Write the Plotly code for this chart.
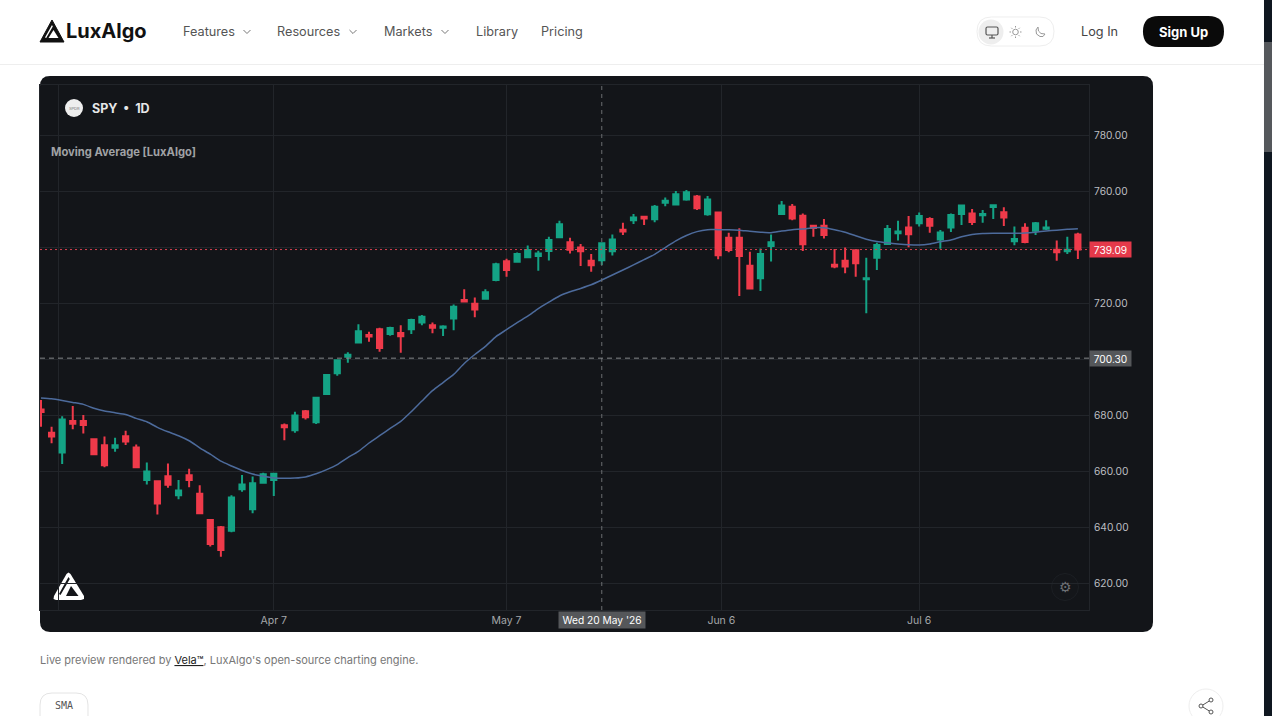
import plotly.graph_objects as go

# -----------------------------
# Chart data
# -----------------------------

opens = [
    682.0, 673.7, 666.6, 677.9, 677.9, 671.3, 669.2, 668.3, 672.4, 668.4,
    656.8, 656.3, 658.1, 651.3, 658.5, 651.9, 642.5, 639.9, 638.7, 653.5,
    646.3, 655.8, 656.8, 676.3, 674.6, 681.3, 677.4, 687.5, 694.9, 700.8,
    705.9, 708.6, 710.6, 708.9, 709.3, 710.6, 713.0, 712.1, 711.2, 714.5,
    721.1, 719.7, 721.5, 728.2, 734.9, 734.7, 736.3, 736.8, 738.6, 743.5,
    741.7, 739.8, 735.1, 735.3, 738.5, 746.2, 749.6, 750.8, 749.9, 755.8,
    755.2, 757.0, 758.0, 751.7, 752.3, 743.3, 743.3, 733.3, 728.8, 740.4,
    751.8, 754.4, 751.2, 747.6, 747.6, 733.7, 735.1, 738.8, 728.5, 736.2,
    741.1, 744.9, 747.0, 748.5, 750.0, 742.7, 747.0, 751.8, 752.0, 751.3,
    754.3, 752.4, 742.1, 746.9, 745.8, 746.5, 739.0, 738.5, 744.5,
]
highs = [
    685.4, 675.8, 679.6, 683.2, 680.0, 671.5, 672.3, 671.9, 674.4, 669.5,
    663.0, 656.5, 662.7, 656.8, 660.8, 654.9, 642.5, 640.4, 651.3, 658.6,
    658.0, 659.4, 659.4, 677.0, 681.2, 681.8, 686.2, 694.3, 699.9, 702.4,
    712.4, 709.7, 711.2, 711.5, 712.1, 714.4, 715.7, 713.0, 712.1, 719.5,
    724.9, 722.0, 724.9, 734.4, 735.8, 738.0, 740.5, 738.7, 743.7, 749.4,
    743.3, 741.1, 737.5, 741.3, 744.5, 748.7, 751.8, 751.1, 755.0, 757.7,
    760.0, 760.4, 758.6, 758.2, 752.4, 745.1, 746.7, 738.3, 739.5, 744.5,
    756.4, 755.4, 752.0, 747.9, 750.0, 739.3, 739.8, 738.9, 736.2, 741.5,
    747.9, 749.4, 751.1, 752.3, 750.6, 746.1, 752.0, 755.2, 753.6, 753.2,
    755.2, 754.2, 747.3, 748.5, 748.9, 749.6, 742.3, 743.7, 745.1,
]
lows = [
    675.8, 669.9, 662.5, 674.9, 673.4, 665.8, 661.3, 666.9, 669.3, 661.0,
    655.2, 644.5, 654.0, 649.9, 654.2, 644.6, 633.0, 629.4, 638.1, 652.6,
    644.9, 655.6, 651.1, 671.0, 673.7, 678.4, 676.8, 687.5, 694.0, 698.7,
    705.6, 706.2, 702.6, 708.3, 702.2, 708.9, 712.1, 709.2, 708.2, 710.3,
    720.2, 714.9, 721.3, 727.8, 729.4, 734.4, 736.2, 731.5, 735.2, 743.5,
    737.7, 733.2, 731.2, 733.6, 737.0, 744.3, 748.2, 747.9, 748.8, 754.6,
    754.8, 756.5, 753.2, 751.2, 735.6, 738.1, 722.5, 725.2, 724.3, 734.8,
    751.7, 749.6, 738.6, 743.7, 743.0, 732.4, 730.6, 729.4, 716.3, 731.8,
    740.7, 742.3, 739.9, 747.3, 745.1, 739.4, 745.4, 747.9, 747.9, 748.7,
    750.0, 747.5, 740.6, 741.3, 744.3, 746.1, 735.1, 737.5, 735.7,
]
closes = [
    681.1, 672.3, 678.4, 676.9, 676.4, 666.0, 662.1, 669.2, 670.5, 661.3,
    659.8, 648.4, 655.1, 653.0, 656.8, 644.9, 633.9, 631.8, 650.5, 655.2,
    655.6, 658.8, 659.0, 675.6, 679.8, 679.2, 686.2, 694.3, 699.6, 701.5,
    709.9, 708.0, 703.9, 711.1, 708.1, 713.9, 715.1, 711.2, 711.6, 718.7,
    720.5, 717.7, 723.8, 733.8, 731.8, 737.5, 738.9, 737.7, 742.5, 748.1,
    739.0, 738.5, 733.5, 741.3, 742.7, 745.5, 750.5, 750.2, 754.4, 756.5,
    758.8, 759.6, 753.8, 757.0, 737.1, 738.9, 736.8, 725.2, 737.5, 741.7,
    754.8, 750.2, 741.0, 746.8, 744.3, 733.0, 733.0, 734.2, 728.8, 740.7,
    746.4, 745.5, 744.6, 751.1, 747.6, 745.2, 751.4, 754.8, 748.9, 751.8,
    754.9, 750.5, 742.9, 741.8, 748.5, 747.0, 738.1, 739.0, 739.09,
]
ma_values = [
    686.1, 685.8, 685.2, 684.5, 683.8, 682.4, 681.4, 680.8, 680.2, 678.8,
    677.6, 675.6, 674.0, 672.6, 670.8, 668.3, 666.0, 663.5, 661.8, 660.2,
    658.9, 658.1, 657.5, 657.4, 657.5, 657.9, 659.0, 660.5, 662.3, 664.8,
    667.0, 670.0, 672.6, 675.2, 677.7, 681.2, 685.0, 688.7, 691.6, 694.5,
    698.4, 701.6, 704.5, 708.0, 710.5, 713.0, 715.3, 718.0, 720.3, 722.5,
    724.0, 725.2, 726.5, 728.2, 730.0, 731.8, 733.6, 735.5, 737.4, 739.8,
    742.2, 744.1, 745.5, 746.2, 746.2, 746.2, 746.0, 745.6, 745.3, 745.1,
    745.7, 746.2, 746.4, 746.9, 746.9, 746.2, 745.3, 744.0, 742.8, 742.0,
    741.5, 741.1, 740.8, 740.7, 741.1, 741.9, 742.5, 743.7, 744.5, 744.8,
    744.9, 744.9, 744.9, 745.0, 745.3, 745.7, 746.0, 746.3, 746.5,
]

bar_index = list(range(len(closes)))

# bar positions of the date ticks (Mar 7 has its grid line but no label)
date_ticks = [1.7, 22, 44, 64.3, 83]
date_labels = ["", "Apr 7", "May 7", "Jun 6", "Jul 6"]

# 700 and 740 sit under the value tags, so they only keep their grid lines
price_ticks = [620, 640, 660, 680, 700, 720, 740, 760, 780]
price_labels = ["620.00", "640.00", "660.00", "680.00", "", "720.00", "", "760.00", "780.00"]

last_price = 739.09
cross_price = 700.30
cross_bar = 53

nav_items = ["Features", "Resources", "Markets", "Library", "Pricing"]

# -----------------------------
# Page helpers, everything below is in screen pixels
# -----------------------------

W, H = 1272, 716
FONT = "Inter, Liberation Sans, sans-serif"

UP = "#14a385"
DOWN = "#ef3a4a"
PANEL = "#131519"
GRID = "#22252a"


def px_x(x):
    return x / W


def px_y(y):
    return 1 - y / H


def poly(points, fill=None, line=None, width=1, close=True):
    path = "M " + " L ".join(f"{px_x(x):.5f},{px_y(y):.5f}" for x, y in points)
    if close:
        path += " Z"
    return dict(
        type="path", path=path, xref="paper", yref="paper",
        fillcolor=fill if fill else "rgba(0,0,0,0)",
        line=dict(color=line if line else "rgba(0,0,0,0)", width=width),
        layer="below",
    )


def round_rect(x0, y0, x1, y1, r, fill=None, line=None, width=1):
    def p(x, y):
        return f"{px_x(x):.5f},{px_y(y):.5f}"
    path = (
        f"M {p(x0 + r, y0)} L {p(x1 - r, y0)} Q {p(x1, y0)} {p(x1, y0 + r)} "
        f"L {p(x1, y1 - r)} Q {p(x1, y1)} {p(x1 - r, y1)} "
        f"L {p(x0 + r, y1)} Q {p(x0, y1)} {p(x0, y1 - r)} "
        f"L {p(x0, y0 + r)} Q {p(x0, y0)} {p(x0 + r, y0)} Z"
    )
    return dict(
        type="path", path=path, xref="paper", yref="paper",
        fillcolor=fill if fill else "rgba(0,0,0,0)",
        line=dict(color=line if line else "rgba(0,0,0,0)", width=width),
        layer="below",
    )


def circle(cx, cy, r, fill=None, line=None, width=1):
    return dict(
        type="circle", xref="paper", yref="paper",
        x0=px_x(cx - r), x1=px_x(cx + r), y0=px_y(cy + r), y1=px_y(cy - r),
        fillcolor=fill if fill else "rgba(0,0,0,0)",
        line=dict(color=line if line else "rgba(0,0,0,0)", width=width),
        layer="below",
    )


def label(x, y, text, size=13, color="#555555", anchor="left", family=FONT, **kw):
    return dict(
        x=px_x(x), y=px_y(y), xref="paper", yref="paper", text=text,
        showarrow=False, xanchor=anchor, yanchor="middle", align=anchor,
        font=dict(size=size, color=color, family=family), borderpad=0, **kw,
    )


def chevron(cx, cy):
    return poly([(cx - 3.5, cy - 2), (cx, cy + 1.5), (cx + 3.5, cy - 2)],
                line="#777777", width=1, close=False)


# -----------------------------
# Shapes: page chrome and chart panel
# -----------------------------

shapes = [
    poly([(0, 64.5), (1264, 64.5)], line="#eeeeee", close=False),
    round_rect(40, 76, 1153, 632, 10, fill=PANEL),
    # scrollbar
    poly([(1264, 0), (1272, 0), (1272, 716), (1264, 716)], fill="#0f1720"),
    poly([(1264, 42), (1272, 42), (1272, 152), (1264, 152)], fill="#55585c"),
    # header logo
    poly([(40, 42), (44, 42), (60, 42), (64, 42), (52, 20)], fill="#111111", line="#111111", width=1),
    poly([(48.5, 38), (53.5, 30), (58.5, 38)], fill="#ffffff"),
    poly([(45, 37.5), (52, 25), (52.8, 26.4), (46.2, 38)], fill="#ffffff"),
    # nav chevrons
    chevron(247, 32), chevron(353, 32), chevron(445, 32),
    # theme switch
    round_rect(977, 17, 1054, 46, 14.5, fill="#ffffff", line="#eeeeee"),
    circle(991, 32, 12.5, fill="#eeeeee"),
    round_rect(986, 27, 998, 35, 1.5, line="#555555", width=1.2),
    poly([(989, 38), (995, 38)], line="#555555", close=False, width=1.2),
    poly([(992, 35), (992, 38)], line="#555555", close=False, width=1.2),
    circle(1015.5, 32, 2.8, line="#999999"),
    poly([(1015.5, 26), (1015.5, 27.5)], line="#999999", close=False),
    poly([(1015.5, 36.5), (1015.5, 38)], line="#999999", close=False),
    poly([(1009.5, 32), (1011, 32)], line="#999999", close=False),
    poly([(1020, 32), (1021.5, 32)], line="#999999", close=False),
    poly([(1011.3, 27.8), (1012.3, 28.8)], line="#999999", close=False),
    poly([(1018.7, 35.2), (1019.7, 36.2)], line="#999999", close=False),
    poly([(1019.7, 27.8), (1018.7, 28.8)], line="#999999", close=False),
    poly([(1012.3, 35.2), (1011.3, 36.2)], line="#999999", close=False),
    poly([(1038, 27), (1036, 30), (1036.5, 34), (1040, 36.5), (1043, 36.5),
          (1045, 34), (1041, 33.5), (1038.5, 31), (1038, 27)],
         line="#999999", close=False),
    # sign up button
    round_rect(1143, 16, 1224, 47, 15.5, fill="#0a0a0a"),
    # symbol badge
    circle(74, 108, 9, fill="#eeeeee"),
    # chart logo
    poly([(53.5, 599), (54, 596), (66.5, 574), (68.5, 572.5), (70.5, 574),
          (84, 596), (84, 599), (81, 600), (56, 600)], fill="#ffffff"),
    poly([(71, 586), (78.5, 596), (66, 596)], fill=PANEL),
    poly([(68.5, 577), (59, 594), (60.5, 595), (69.8, 579)], fill=PANEL),
    # settings button
    circle(1065, 587, 13.5, fill="#14161a", line="#1c1f24"),
    # chips under the chart
    round_rect(40, 693, 88, 730, 12, fill="#ffffff", line="#e4e4e4"),
    circle(1206, 706, 17, fill="#ffffff", line="#eeeeee"),
    circle(1211, 700, 2, line="#555555"),
    circle(1201, 706, 2, line="#555555"),
    circle(1211, 712, 2, line="#555555"),
    poly([(1209.3, 701), (1202.8, 705)], line="#555555", close=False),
    poly([(1202.8, 707), (1209.3, 711)], line="#555555", close=False),
    # crosshair and last price lines, tied to the axes
    dict(type="line", xref="x", yref="y domain", x0=cross_bar, x1=cross_bar, y0=0, y1=1,
         line=dict(color="#6b6d70", width=1, dash="4px,4px"), layer="above"),
    dict(type="line", xref="x domain", yref="y", x0=0, x1=1, y0=cross_price, y1=cross_price,
         line=dict(color="#85878a", width=1, dash="5px,4px"), layer="above"),
    dict(type="line", xref="x domain", yref="y", x0=0, x1=1, y0=last_price, y1=last_price,
         line=dict(color="#d8404f", width=1, dash="2px,3px"), layer="above"),
]

# -----------------------------
# Text
# -----------------------------

nav_x = [182, 276, 383, 475, 540]

annotations = [label(x, 32, t, size=12.7, color="#555555") for x, t in zip(nav_x, nav_items)]
annotations += [
    label(65, 31.5, "<b>LuxAlgo</b>", size=20, color="#111111", family=FONT),
    label(1080, 32, "Log In", size=12.7, color="#444444"),
    label(1183.5, 32, "<b>Sign Up</b>", size=13, color="#ffffff", anchor="center"),
    label(74, 108, "SPDR", size=4, color="#777777", anchor="center"),
    label(91, 108, "<b>SPY  •  1D</b>", size=12.5, color="#e6e7e8"),
    label(50, 152, "<b>Moving Average [LuxAlgo]</b>", size=11.2, color="#a0a2a5"),
    label(1065, 587, "⚙", size=14, color="#6d6f73", anchor="center", family="DejaVu Sans"),
    label(39, 660, "Live preview rendered by <span style='color:#222222'><u>Vela™</u></span>, "
          "LuxAlgo's open-source charting engine.", size=11, color="#777777"),
    label(64, 705, "SMA", size=10, color="#555555", anchor="center", family="DejaVu Sans Mono"),
    # axis value tags
    dict(x=px_x(1110.5), y=last_price, xref="paper", yref="y", text=f"{last_price:.2f}",
         xanchor="center", yanchor="middle", showarrow=False, bgcolor="#e5394a",
         width=41, height=15, borderpad=0,
         font=dict(size=10.2, color="#ffffff", family=FONT)),
    dict(x=px_x(1110.5), y=cross_price, xref="paper", yref="y", text=f"{cross_price:.2f}",
         xanchor="center", yanchor="middle", showarrow=False, bgcolor="#55575a",
         width=41, height=15, borderpad=0,
         font=dict(size=10.2, color="#ffffff", family=FONT)),
    dict(x=cross_bar, y=px_y(619.5), xref="x", yref="paper", text="Wed 20 May '26",
         xanchor="center", yanchor="middle", showarrow=False, bgcolor="#55575a",
         width=86, height=16, borderpad=0,
         font=dict(size=10.2, color="#ffffff", family=FONT)),
]

# -----------------------------
# Figure
# -----------------------------

fig = go.Figure()

fig.add_trace(go.Candlestick(
    x=bar_index,
    open=opens,
    high=highs,
    low=lows,
    close=closes,
    increasing=dict(line=dict(color=UP, width=2), fillcolor=UP),
    decreasing=dict(line=dict(color=DOWN, width=2), fillcolor=DOWN),
    whiskerwidth=0,
    showlegend=False,
))

fig.add_trace(go.Scatter(
    x=bar_index,
    y=ma_values,
    mode="lines",
    line=dict(color="#4d6b9c", width=1.5, shape="spline", smoothing=0.6),
    showlegend=False,
))

fig.update_layout(
    width=W,
    height=H,
    autosize=False,
    margin=dict(l=0, r=0, t=0, b=0),
    paper_bgcolor="#ffffff",
    plot_bgcolor="rgba(0,0,0,0)",
    font=dict(family=FONT),
    boxgap=0.3,
    showlegend=False,
    shapes=shapes,
    annotations=annotations,
    xaxis=dict(
        domain=[40 / W, 1089 / W],
        range=[-0.095, 99.05],
        rangeslider=dict(visible=False),
        tickmode="array",
        tickvals=date_ticks,
        ticktext=date_labels,
        ticks="",
        tickfont=dict(size=10.5, color="#a5a7aa"),
        showgrid=True,
        gridcolor=GRID,
        gridwidth=1,
        zeroline=False,
        showline=True,
        linecolor=GRID,
        mirror=True,
    ),
    yaxis=dict(
        domain=[1 - 610 / H, 1 - 85 / H],
        range=[610.36, 797.86],
        side="right",
        tickmode="array",
        tickvals=price_ticks,
        ticktext=price_labels,
        ticks="outside",
        ticklen=2,
        tickcolor="rgba(0,0,0,0)",
        tickfont=dict(size=10.2, color="#bcbec1"),
        showgrid=True,
        gridcolor=GRID,
        gridwidth=1,
        zeroline=False,
        showline=True,
        linecolor=GRID,
        mirror=True,
    ),
)

fig.write_html(
    "out.html",
    config=dict(displayModeBar=False),
    post_script="document.body.style.margin='0';document.body.style.overflow='hidden';",
)
